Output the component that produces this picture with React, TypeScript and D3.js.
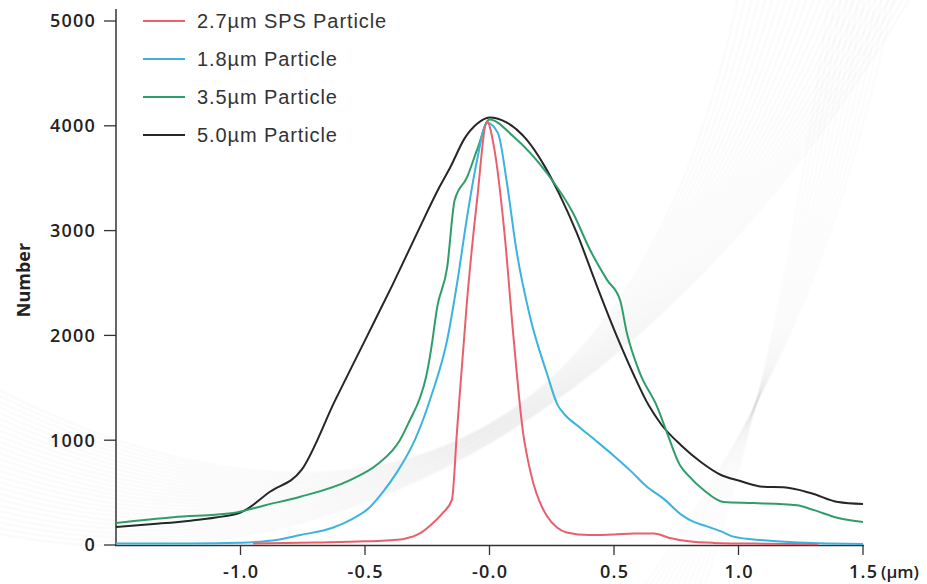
import React from "react";
import * as d3 from "d3";

// ---- data ----
const seriesNames = ["2.7µm SPS Particle", "1.8µm Particle", "3.5µm Particle", "5.0µm Particle"];
const seriesColors = ["#e8606c", "#3cb3df", "#2f9d6a", "#262626"];

const redX = [-0.95, -0.7, -0.5, -0.4, -0.34, -0.28, -0.227, -0.19, -0.151, -0.131, -0.09, -0.05, -0.01, 0.02, 0.06, 0.095, 0.135, 0.155, 0.176, 0.2, 0.23, 0.27, 0.31, 0.4, 0.5, 0.58, 0.66, 0.72, 0.8, 0.9, 1.1, 1.32];
const redY = [15, 25, 35, 45, 60, 110, 210, 300, 430, 1070, 2340, 3290, 4040, 3770, 2980, 2020, 1070, 800, 590, 420, 280, 170, 120, 95, 100, 110, 110, 70, 35, 20, 12, 8];

const blueX = [-1.5, -1.2, -1.0, -0.85, -0.76, -0.63, -0.55, -0.49, -0.43, -0.37, -0.3, -0.23, -0.17, -0.13, -0.09, -0.05, -0.01, 0.034, 0.07, 0.108, 0.163, 0.23, 0.275, 0.3, 0.36, 0.43, 0.5, 0.57, 0.63, 0.7, 0.77, 0.82, 0.87, 0.93, 0.98, 1.1, 1.3, 1.5];
const blueY = [15, 15, 22, 50, 95, 165, 250, 340, 500, 700, 1000, 1450, 1956, 2500, 3130, 3674, 4030, 3930, 3454, 2815, 2176, 1641, 1330, 1250, 1126, 990, 850, 700, 560, 440, 290, 220, 180, 130, 80, 45, 18, 10];

const greenX = [-1.5, -1.27, -1.03, -0.9, -0.76, -0.56, -0.45, -0.36, -0.32, -0.28, -0.255, -0.235, -0.21, -0.17, -0.14, -0.09, -0.05, 0, 0.095, 0.23, 0.335, 0.404, 0.472, 0.524, 0.552, 0.604, 0.673, 0.713, 0.765, 0.8, 0.86, 0.94, 1.06, 1.235, 1.3, 1.4, 1.5];
const greenY = [210, 265, 305, 380, 460, 620, 770, 1000, 1190, 1400, 1600, 1860, 2270, 2650, 3290, 3510, 3770, 4060, 3900, 3550, 3170, 2815, 2530, 2340, 2020, 1640, 1320, 1070, 760, 660, 525, 410, 400, 380, 335, 258, 220];

const blackX = [-1.5, -1.35, -1.2, -1.1, -1.0, -0.88, -0.755, -0.62, -0.49, -0.39, -0.29, -0.2, -0.157, -0.1, -0.05, 0, 0.07, 0.15, 0.22, 0.28, 0.35, 0.43, 0.51, 0.58, 0.64, 0.69, 0.77, 0.85, 0.93, 1.0, 1.1, 1.18, 1.29, 1.4, 1.5];
const blackY = [172, 200, 232, 262, 310, 510, 716, 1380, 2000, 2480, 2980, 3420, 3607, 3880, 4020, 4080, 4030, 3865, 3620, 3350, 2980, 2480, 2000, 1620, 1330, 1150, 950, 790, 668, 615, 555, 550, 496, 410, 391];

const xTickValues = [-1.0, -0.5, 0.0, 0.5, 1.0, 1.5];
const xTickLabels = ["-1.0", "-0.5", "-0.0", "0.5", "1.0", "1.5"];
const yTickValues = [0, 1000, 2000, 3000, 4000, 5000];
const xUnit = "(µm)";
const yTitle = "Number";

const W = 927;
const H = 584;

export default function App() {
  const x = d3.scaleLinear().domain([-1.5, 1.5]).range([116, 863]);
  const y = d3.scaleLinear().domain([0, 5000]).range([545, 21]);

  const series = [
    { xs: redX, ys: redY },
    { xs: blueX, ys: blueY },
    { xs: greenX, ys: greenY },
    { xs: blackX, ys: blackY },
  ];
  const line = d3
    .line<[number, number]>()
    .x((d) => x(d[0]))
    .y((d) => y(d[1]))
    .curve(d3.curveMonotoneX);

  // draw order: black, green, blue, red
  const drawOrder = [3, 2, 1, 0];

  // decorative, very faint background ribbon strands
  const strands = d3.range(26).map((i) => {
    const p = d3.path();
    p.moveTo(-20, 380 + i * 6);
    p.bezierCurveTo(260, 530 + i * 2.5, 620, 560 - i * 3, 740 + i * 7, -10);
    return p.toString();
  });
  const strands2 = d3.range(12).map((i) => {
    const p = d3.path();
    p.moveTo(830 + i * 6, -10);
    p.bezierCurveTo(800 + i * 4, 220, 770 + i * 2, 380, 700 - i * 6, 600);
    return p.toString();
  });

  const labelFont = "'Open Sans', sans-serif";
  const legendFont = "'Liberation Sans', Arial, sans-serif";

  return (
    <svg
      width={W}
      height={H}
      style={{ position: "fixed", left: 0, top: 0, background: "#fff" }}
    >
      <g fill="none" stroke="#000">
        {strands.map((d, i) => (
          <path key={"s" + i} d={d} strokeOpacity={0.014} strokeWidth={3} />
        ))}
        {strands2.map((d, i) => (
          <path key={"t" + i} d={d} strokeOpacity={0.013} strokeWidth={3} />
        ))}
      </g>

      {/* axes */}
      <line x1={116} x2={116} y1={9} y2={546} stroke="#333" strokeWidth={1.5} />
      <line x1={115} x2={864} y1={545.5} y2={545.5} stroke="#333" strokeWidth={1.5} />
      {yTickValues.map((v) => (
        <g key={"y" + v}>
          <line x1={104} x2={116} y1={y(v)} y2={y(v)} stroke="#333" strokeWidth={1.3} />
          <text
            x={96}
            y={y(v)}
            dy="0.36em"
            textAnchor="end"
            fontFamily={labelFont}
            fontWeight={600}
            fontSize={18}
            letterSpacing={1.2}
            fill="#222"
          >
            {v}
          </text>
        </g>
      ))}
      {xTickValues.map((v, i) => (
        <g key={"x" + v}>
          <line x1={x(v)} x2={x(v)} y1={545} y2={555} stroke="#333" strokeWidth={1.3} />
          <text
            x={x(v) + 0.6}
            y={578}
            textAnchor="middle"
            fontFamily={labelFont}
            fontWeight={600}
            fontSize={18}
            letterSpacing={1.2}
            fill="#222"
          >
            {xTickLabels[i]}
          </text>
        </g>
      ))}
      <text
        x={881}
        y={578}
        fontFamily={labelFont}
        fontWeight={600}
        fontSize={17}
        fill="#222"
      >
        {xUnit}
      </text>
      <text
        transform="translate(30,280) rotate(-90)"
        textAnchor="middle"
        fontFamily={labelFont}
        fontWeight={700}
        fontSize={18}
        fill="#222"
      >
        {yTitle}
      </text>

      {/* series */}
      {drawOrder.map((si) => {
        const s = series[si];
        const pts = s.xs.map((v, k) => [v, s.ys[k]] as [number, number]);
        return (
          <path
            key={"l" + si}
            d={line(pts) || ""}
            fill="none"
            stroke={seriesColors[si]}
            strokeWidth={2}
            strokeLinejoin="round"
          />
        );
      })}

      {/* legend */}
      {seriesNames.map((name, i) => {
        const ly = 21 + i * 38;
        return (
          <g key={"lg" + i}>
            <line x1={143} x2={185} y1={ly} y2={ly} stroke={seriesColors[i]} strokeWidth={2} />
            <text
              x={197}
              y={ly}
              dy="0.36em"
              fontFamily={legendFont}
              fontSize={20}
              letterSpacing={0.9}
              fill="#333"
            >
              {name}
            </text>
          </g>
        );
      })}
    </svg>
  );
}
